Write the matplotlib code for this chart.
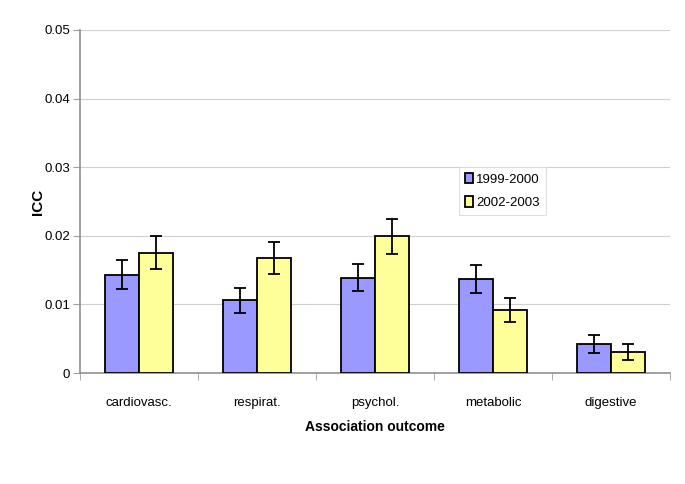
import matplotlib
matplotlib.use("Agg")
import matplotlib.pyplot as plt
import numpy as np

categories = ["cardiovasc.", "respirat.", "psychol.", "metabolic", "digestive"]
series_names = ["1999-2000", "2002-2003"]
icc_1999 = [0.0143, 0.0106, 0.0139, 0.0137, 0.0042]
err_1999 = [0.0021, 0.0018, 0.0020, 0.0020, 0.0013]
icc_2002 = [0.0175, 0.0168, 0.0199, 0.0092, 0.0031]
err_2002 = [0.0024, 0.0023, 0.0026, 0.0017, 0.0012]
yticks = [0, 0.01, 0.02, 0.03, 0.04, 0.05]
ytick_labels = ["0", "0.01", "0.02", "0.03", "0.04", "0.05"]

plt.rcParams['font.family'] = ['Liberation Sans', 'DejaVu Sans']

fig = plt.figure(figsize=(6.85, 4.84), dpi=100)
ax = fig.add_axes([80/685, 1-373/484, 590/685, 343/484])

x = np.arange(len(categories))
w = 0.29
ekw = dict(ecolor='black', elinewidth=1.3, capsize=4, capthick=1.3)
ax.bar(x - w/2, icc_1999, w, color='#9999FF', edgecolor='black', linewidth=1.3,
       yerr=err_1999, error_kw=ekw, label=series_names[0], zorder=3)
ax.bar(x + w/2, icc_2002, w, color='#FFFF99', edgecolor='black', linewidth=1.3,
       yerr=err_2002, error_kw=ekw, label=series_names[1], zorder=3)

ax.set_xlim(-0.5, len(categories) - 0.5)
ax.set_ylim(0, 0.05)
ax.set_yticks(yticks)
ax.set_yticklabels(ytick_labels, fontsize=9.5)
ax.yaxis.grid(True, color='#d0d0d0', linewidth=0.8, zorder=0)
ax.set_axisbelow(True)

ax.set_xticks(x)
ax.set_xticklabels(categories, fontsize=9.5)
ax.tick_params(axis='x', length=0, pad=17)
ax.set_xticks(np.arange(len(categories) + 1) - 0.5, minor=True)
ax.tick_params(axis='x', which='minor', length=5, color='#a0a0a0', direction='out')
ax.tick_params(axis='y', length=5, color='#a0a0a0', direction='out', pad=2)

for s in ['top', 'right']:
    ax.spines[s].set_visible(False)
for s in ['left', 'bottom']:
    ax.spines[s].set_color('#909090')
    ax.spines[s].set_linewidth(1.2)

ax.set_ylabel("ICC", fontsize=11, fontweight='bold')
ax.yaxis.set_label_coords((38 - 80) / 590, 0.5)
ax.set_xlabel("Association outcome", fontsize=10, fontweight='bold')
ax.xaxis.set_label_coords(0.5, -(427 - 373) / 343)
ax.xaxis.label.set_va('center')
ax.yaxis.label.set_va('center')

leg = ax.legend(loc='upper left', bbox_to_anchor=((459-80)/590, (373-167)/343),
                borderaxespad=0,
                fontsize=9.5, frameon=True, fancybox=False, edgecolor='#d8d8d8',
                handlelength=0.6, handleheight=0.85, handletextpad=0.25,
                borderpad=0.45, labelspacing=0.8)
leg.get_frame().set_linewidth(0.8)

fig.savefig("out.png", dpi=100)
